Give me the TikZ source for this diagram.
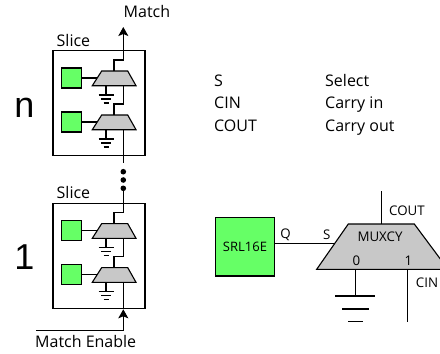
\documentclass[tikz,border=0pt]{standalone}
\usepackage{fontspec}
\usetikzlibrary{arrows.meta}
\setmainfont{Open Sans}
\newfontfamily\arl{Liberation Sans}
\definecolor{green1}{RGB}{102,255,102}
\definecolor{gray1}{RGB}{200,200,200}
\tikzset{
  x=1pt,y=-1pt,
  wire/.style={draw=black,line width=1.1pt},
  slicebox/.style={draw=black,line width=1.1pt},
  greenbox/.style={draw=black,fill=green1,line width=1.2pt},
  muxbody/.style={draw=black,fill=gray1,line width=1.1pt},
  lbl/.style={font=\fontsize{16}{19}\selectfont,inner sep=0pt,text=black},
  sml/.style={font=\fontsize{13.3}{16}\selectfont,inner sep=0pt,text=black},
  big/.style={font=\arl\fontsize{36}{40}\selectfont,inner sep=0pt,text=black},
  tip/.style={-{Stealth[length=9pt,width=10pt,inset=2pt]}},
}
\newcommand{\minimux}[3]{%
 \begin{scope}[shift={(#2,#3)}]
  \node[greenbox,minimum width=20pt,minimum height=20pt,inner sep=0pt] (#1g) at (71.7,78) {};
  \coordinate (#1sel) at (97,78);
  \coordinate (#1top) at (114,71);
  \coordinate (#1gnd) at (106,86);
  \coordinate (#1g0) at (106,95);
  \coordinate (#1in) at (123.3,86);
  \draw[wire] (#1g.east) -- (#1sel);
  \draw[wire] (#1gnd) -- (#1g0);
  \draw[wire] (98.5,95) -- (113.5,95);
  \draw[wire] (101,99) -- (111,99);
  \draw[wire] (103.5,103) -- (108.5,103);
  \draw[muxbody] (101.7,71) -- (127.7,71) -- (136,85.7) -- (92.3,85.7) -- cycle;
 \end{scope}}
\begin{document}
\begin{tikzpicture}
\useasboundingbox (0,0) rectangle (440,354);
\fill[white] (0,0) rectangle (440,354);
\node[slicebox,minimum width=92pt,minimum height=105pt,inner sep=0pt] (sn) at (99,103) {};
\node[slicebox,minimum width=92pt,minimum height=105pt,inner sep=0pt] (s1) at (99,255.8) {};
\node[lbl,anchor=base west] (sln) at (56.5,46) {Slice};
\node[lbl,anchor=base west] (sl1) at (56.5,198.5) {Slice};
\node[big,anchor=base] (nn) at (24.5,117) {n};
\node[big,anchor=base] (one) at (24.5,269) {1};
\coordinate (matchtip) at (123.3,27);
\minimux{m}{0}{0}
\minimux{k}{0}{44}
\minimux{p}{0}{152.6}
\minimux{q}{0}{196.6}
\draw[wire,tip] (mtop) -- (114,60) -- (123.3,60) -- (matchtip);
\draw[wire] (min) -- (123.3,104) -- (114,104) -- (ktop);
\coordinate (kout) at (123.3,163);
\draw[wire] (kin) -- (kout);
\foreach \n/\y in {d1/171.7,d2/180,d3/188.3}{\node[circle,fill=black,minimum size=5.6pt,inner sep=0pt] (\n) at (123.3,\y) {};}
\draw[wire] (d3) -- (123.3,212.6) -- (114,212.6) -- (ptop);
\draw[wire] (pin) -- (123.3,256.6) -- (114,256.6) -- (qtop);
\coordinate (mestart) at (36,330.7);
\coordinate (mecorner) at (123.3,330.7);
\coordinate (metip) at (123.3,309.3);
\draw[wire,tip] (mestart) -- (mecorner) -- (metip);
\draw[wire] (qin) -- (metip);
\node[lbl,anchor=base west] (mt) at (123.5,17.5) {Match};
\node[lbl,anchor=base west] (me) at (35,347) {Match Enable};
\node[lbl,anchor=base west] (l1) at (214,86) {S};
\node[lbl,anchor=base west] (l2) at (214,108) {CIN};
\node[lbl,anchor=base west] (l3) at (214,131) {COUT};
\node[lbl,anchor=base west] (r1) at (325,86) {Select};
\node[lbl,anchor=base west] (r2) at (325,108) {Carry in};
\node[lbl,anchor=base west] (r3) at (325,131) {Carry out};
\node[greenbox,minimum width=58.6pt,minimum height=58.3pt,inner sep=0pt,font=\fontsize{13}{16}\selectfont] (srl) at (245,246.8) {SRL16E};
\coordinate (s) at (335,243.5);
\draw[wire] (srl.east |- s) -- (s);
\coordinate (cout) at (381.7,191);
\draw[wire] (cout) -- (381.7,224);
\draw[wire] (355.3,269) -- (355.3,296);
\draw[wire] (335,296) -- (375,296);
\draw[wire] (342,309) -- (369,309);
\draw[wire] (348,321.7) -- (363,321.7);
\draw[wire] (407.7,269) -- (407.7,322);
\draw[muxbody] (348.3,224) -- (414.3,224) -- (448,269.3) -- (316.7,269.3) -- cycle;
\node[sml] (q) at (285.5,235) {Q};
\node[sml] (ss) at (326.7,235) {S};
\node[sml] (mx) at (380,236.5) {MUXCY};
\node[sml] (z) at (356.5,261) {0};
\node[sml] (o) at (408.5,261) {1};
\node[sml] (co) at (407,210.5) {COUT};
\node[sml] (ci) at (427,283) {CIN};
\end{tikzpicture}
\end{document}
